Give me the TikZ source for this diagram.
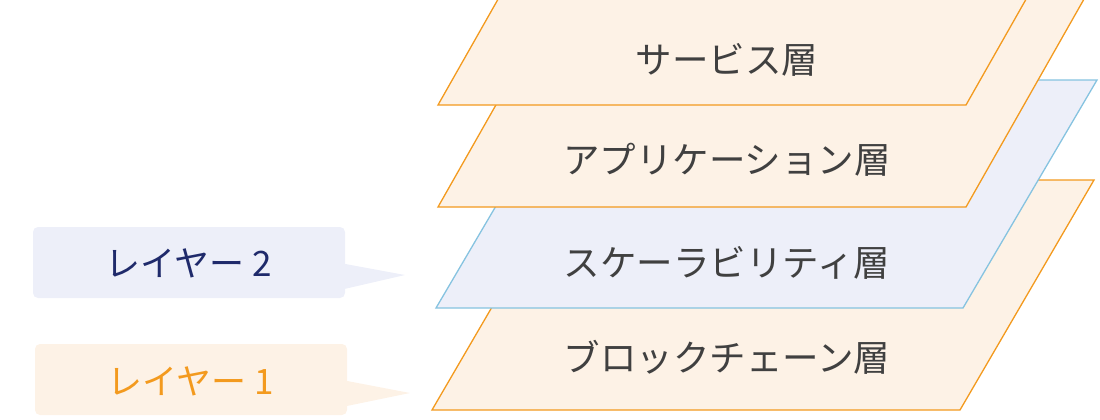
\documentclass[tikz,border=0pt]{standalone}
\usepackage{fontspec}
\newfontfamily\cjk{Noto Sans CJK JP}
\definecolor{lor}{HTML}{F39A1E}
\definecolor{lorf}{HTML}{FDF2E6}
\definecolor{lbl}{HTML}{86C3E0}
\definecolor{lblf}{HTML}{EDEFF9}
\definecolor{txt}{HTML}{404040}
\definecolor{navy}{HTML}{1F2A6B}
\tikzset{
  lay/.style={line width=1.3pt},
  ltext/.style={font=\cjk\fontsize{36.5}{40}\selectfont, text=txt},
  ctext/.style={font=\cjk\fontsize{35}{40}\selectfont},
}
\begin{document}
\begin{tikzpicture}[x=1pt,y=-1pt]
\useasboundingbox (0,0) rectangle (1100,420);
\begin{scope}
\clip (0,0) rectangle (1100,420);
% blockchain
\draw[lay,draw=lor,fill=lorf] (432,410) -- (960,410) -- (1094,180) -- (566,180) -- cycle;
\node[ltext] (b) at (727,357) {ブロックチェーン層};
% scalability
\draw[lay,draw=lbl,fill=lblf] (436,308) -- (963,308) -- (1097,80) -- (570,80) -- cycle;
\node[ltext] (s) at (727,263) {スケーラビリティ層};
% application
\draw[lay,draw=lor,fill=lorf] (438,207) -- (966,207) -- (1092,-15) -- (564,-15) -- cycle;
\node[ltext] (a) at (727,160) {アプリケーション層};
% service
\draw[lay,draw=lor,fill=lorf] (438,105) -- (966,105) -- (1092,-117) -- (564,-117) -- cycle;
\node[ltext] (v) at (727,60) {サービス層};
\end{scope}
% callouts
\fill[lblf,rounded corners=5pt] (33,227) rectangle (345,298);
\fill[lblf] (340,263) -- (405,275) -- (340,290) -- cycle;
\node[ctext,text=navy] (l2) at (189,263) {レイヤー 2};
\fill[lorf,rounded corners=5pt] (35,344) rectangle (347,415);
\fill[lorf] (342,380) -- (410,393) -- (342,407) -- cycle;
\node[ctext,text=lor] (l1) at (191,381) {レイヤー 1};
\end{tikzpicture}
\end{document}
